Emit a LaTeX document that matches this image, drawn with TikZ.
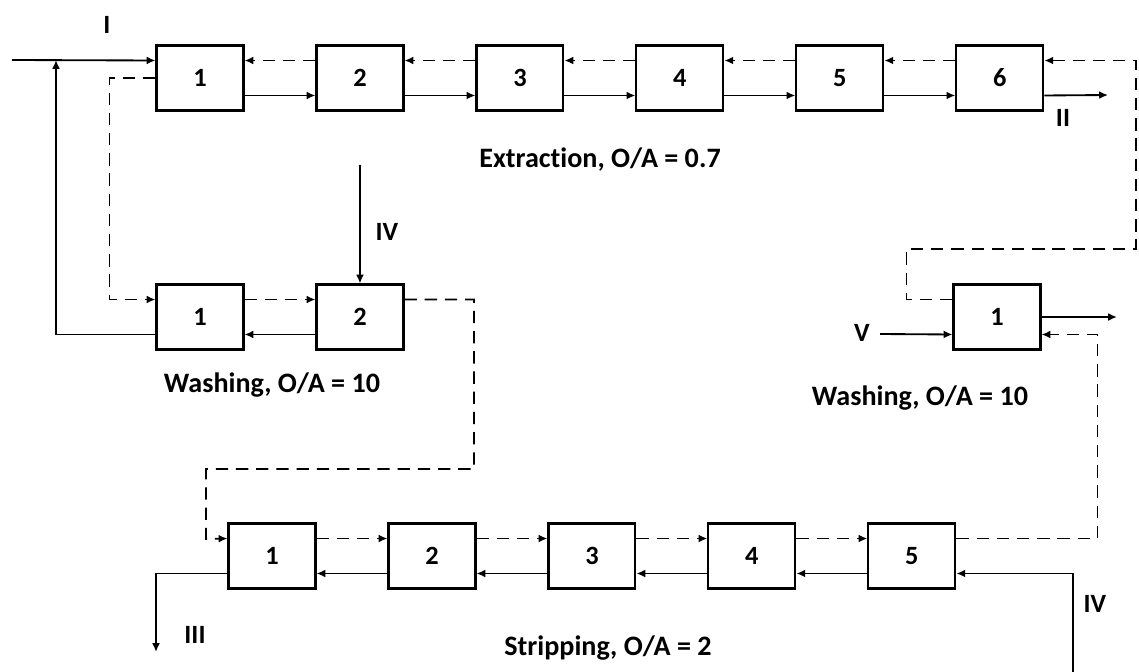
\documentclass[tikz,border=0pt]{standalone}
\usepackage{fontspec}
\setmainfont{Carlito}[Ligatures={NoCommon}]
\usetikzlibrary{arrows.meta, positioning}
\tikzset{
    stage/.style = {rectangle, draw, line width=1.2pt, minimum width=1.74cm, minimum height=1.3cm, font=\fontsize{15}{18}\selectfont\bfseries},
    arrow/.style = {line width=1.05pt, -{Latex[length=5pt,width=4.5pt]}},
    dasharrow/.style = {arrow, dash pattern=on 7pt off 4.5pt},
    dashline/.style = {line width=1.05pt, dash pattern=on 7pt off 4.5pt},
    caption/.style = {font=\fontsize{16}{19}\selectfont\bfseries},
    tag/.style = {font=\fontsize{15}{18}\selectfont\bfseries}
}

\begin{document}
\begin{tikzpicture}[x=0.02cm, y=-0.02cm, node distance=3.2cm]
        \useasboundingbox (0,0) rectangle (1139,672);

        % Extraction
        \node [stage] (e1) at (200,78) {1};
        \node [stage, right of=e1] (e2) {2};
        \node [stage, right of=e2] (e3) {3};
        \node [stage, right of=e3] (e4) {4};
        \node [stage, right of=e4] (e5) {5};
        \node [stage, right of=e5] (e6) {6};
        \node [caption] (extr) at (600,160) {Extraction, O/A = 0.7};

        % Washing (left)
        \node [stage] (w1) at (200,317) {1};
        \node [stage, right of=w1] (w2) {2};
        \node [caption] (washL) at (272,385) {Washing, O/A = 10};

        % Washing (right)
        \node [stage] (w3) at (997,317) {1};
        \node [caption] (washR) at (920,398) {Washing, O/A = 10};

        % Stripping
        \node [stage] (s1) at (272,556) {1};
        \node [stage, right of=s1] (s2) {2};
        \node [stage, right of=s2] (s3) {3};
        \node [stage, right of=s3] (s4) {4};
        \node [stage, right of=s4] (s5) {5};
        \node [caption] (strip) at (608,648) {Stripping, O/A = 2};

        % Feeds and outlets
        \coordinate (feedI) at (12,60);
        \coordinate (joinI) at (56,60);
        \coordinate (outII) at (1108,95);
        \coordinate (feedIV) at (360,165);
        \coordinate (feedV) at (880,334);
        \coordinate (outW) at (1117,317);
        \coordinate (outIII) at (156,652);
        \coordinate (feedIVb) at (1073,672);
        \node [tag] (lblI) at (107,25) {I};
        \node [tag] (lblII) at (1063,118) {II};
        \node [tag] (lblIV) at (387,232) {IV};
        \node [tag] (lblV) at (862,333) {V};
        \node [tag] (lblIII) at (195,635) {III};
        \node [tag] (lblIVb) at (1095,604) {IV};

        % Extraction edges
        \draw [arrow] (feedI) -- ([yshift=.35cm]e1.west);
        \draw [arrow] ([yshift=-.35cm]e1.east) -- ([yshift=-.35cm]e2.west);
        \draw [arrow] ([yshift=-.35cm]e2.east) -- ([yshift=-.35cm]e3.west);
        \draw [arrow] ([yshift=-.35cm]e3.east) -- ([yshift=-.35cm]e4.west);
        \draw [arrow] ([yshift=-.35cm]e4.east) -- ([yshift=-.35cm]e5.west);
        \draw [arrow] ([yshift=-.35cm]e5.east) -- ([yshift=-.35cm]e6.west);
        \draw [arrow] ([yshift=-.35cm]e6.east) -- (outII);
        \draw [dasharrow] ([yshift=.35cm]e2.west) -- ([yshift=.35cm]e1.east);
        \draw [dasharrow] ([yshift=.35cm]e3.west) -- ([yshift=.35cm]e2.east);
        \draw [dasharrow] ([yshift=.35cm]e4.west) -- ([yshift=.35cm]e3.east);
        \draw [dasharrow] ([yshift=.35cm]e5.west) -- ([yshift=.35cm]e4.east);
        \draw [dasharrow] ([yshift=.35cm]e6.west) -- ([yshift=.35cm]e5.east);

        % Washing edges
        \draw [dasharrow] (e1.west) -- ++(-46,0) |- ([yshift=.35cm]w1.west);
        \draw [dasharrow] ([yshift=.35cm]w1.east) -- ([yshift=.35cm]w2.west);
        \draw [arrow] ([yshift=-.35cm]w2.west) -- ([yshift=-.35cm]w1.east);
        \draw [arrow] ([yshift=-.35cm]w1.west) -| (joinI);
        \draw [arrow] (feedIV) -- (w2.north);
        \draw [dasharrow] ([yshift=.35cm]w2.east) -| (474,469) -| (206,539) -- ([yshift=.35cm]s1.west);

        % Stripping edges
        \draw [dasharrow] ([yshift=.35cm]s1.east) -- ([yshift=.35cm]s2.west);
        \draw [dasharrow] ([yshift=.35cm]s2.east) -- ([yshift=.35cm]s3.west);
        \draw [dasharrow] ([yshift=.35cm]s3.east) -- ([yshift=.35cm]s4.west);
        \draw [dasharrow] ([yshift=.35cm]s4.east) -- ([yshift=.35cm]s5.west);
        \draw [arrow] ([yshift=-.35cm]s5.west) -- ([yshift=-.35cm]s4.east);
        \draw [arrow] ([yshift=-.35cm]s4.west) -- ([yshift=-.35cm]s3.east);
        \draw [arrow] ([yshift=-.35cm]s3.west) -- ([yshift=-.35cm]s2.east);
        \draw [arrow] ([yshift=-.35cm]s2.west) -- ([yshift=-.35cm]s1.east);
        \draw [arrow] ([yshift=-.35cm]s1.west) -| (outIII);
        \draw [arrow] (feedIVb) |- ([yshift=-.35cm]s5.east);

        % Washing (right) edges
        \draw [dasharrow] ([yshift=.35cm]s5.east) -| ([xshift=1.12cm,yshift=-.35cm]w3.east) -- ([yshift=-.35cm]w3.east);
        \draw [arrow] (feedV) -- ([yshift=-.35cm]w3.west);
        \draw [arrow] (w3.east) -- (outW);
        \draw [dasharrow] ([yshift=.35cm]w3.west) -- ++(-46,0) |- (1136,249) |- ([yshift=.35cm]e6.east);

    \end{tikzpicture}
\end{document}
